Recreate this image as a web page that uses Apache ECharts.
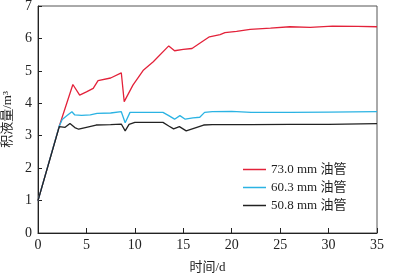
<!DOCTYPE html>
<html>
<head>
<meta charset="utf-8">
<script src="https://cdn.jsdelivr.net/npm/echarts@6/dist/echarts.min.js"></script>
<style>
  html, body { margin: 0; padding: 0; background: #fff; }
  #chart { width: 393px; height: 280px; }
</style>
</head>
<body>
<div id="chart"></div>
<script>
// 73.0 mm 油管
const redDays = [0, 2.2, 3.6, 4.3, 5.0, 5.7, 6.2, 7.5, 8.6, 8.9, 9.1, 9.8, 10.9, 11.9, 13.5, 14.1, 15.0, 15.9, 16.7, 17.7, 18.8, 19.3, 20.5, 21.9, 24, 26, 28.1, 30.4, 33, 35]
const redVals = [1.0, 3.3, 4.58, 4.25, 4.35, 4.46, 4.7, 4.78, 4.94, 4.05, 4.05, 4.56, 5.03, 5.28, 5.77, 5.62, 5.66, 5.69, 5.85, 6.05, 6.12, 6.18, 6.22, 6.28, 6.32, 6.36, 6.34, 6.38, 6.37, 6.36]
// 60.3 mm 油管
const blueDays = [0, 2.2, 2.5, 3.0, 3.5, 3.8, 4.5, 5.4, 6.1, 7.5, 8.6, 9.0, 9.1, 9.5, 10, 12.9, 13.5, 14.1, 14.65, 15.2, 16.0, 16.7, 17.2, 18, 20, 22, 26, 30, 35]
const blueVals = [1.0, 3.3, 3.5, 3.62, 3.74, 3.64, 3.63, 3.64, 3.69, 3.7, 3.74, 3.4, 3.38, 3.72, 3.72, 3.72, 3.62, 3.51, 3.62, 3.51, 3.55, 3.57, 3.72, 3.74, 3.75, 3.72, 3.72, 3.73, 3.74]
// 50.8 mm 油管
const blackDays = [0, 2.2, 2.8, 3.3, 3.8, 4.2, 5.0, 6.0, 7.5, 8.6, 9.0, 9.4, 10, 12.9, 13.5, 14.0, 14.6, 15.3, 16.4, 17.1, 18, 22, 26, 30, 35]
const blackVals = [1.0, 3.28, 3.26, 3.38, 3.25, 3.2, 3.26, 3.33, 3.34, 3.36, 3.15, 3.35, 3.41, 3.41, 3.3, 3.21, 3.28, 3.15, 3.26, 3.33, 3.34, 3.34, 3.35, 3.35, 3.37]

const names = ['73.0 mm 油管', '60.3 mm 油管', '50.8 mm 油管']
const colors = ['#e3223a', '#2bb3e3', '#222222']

const font = '"Liberation Serif", "Times New Roman", "Noto Sans CJK SC", serif'

function pairs(xs, ys) {
  return xs.map((x, i) => [x, ys[i]])
}

const chart = echarts.init(document.getElementById('chart'))
chart.setOption({
  animation: false,
  color: colors,
  textStyle: { fontFamily: font },
  grid: {
    left: 38,
    right: 16,
    top: 6,
    bottom: 47,
    outerBoundsMode: 'none',
    containLabel: false,
    show: true,
    borderColor: '#555',
    borderWidth: 1
  },
  legend: {
    orient: 'vertical',
    left: 238,
    top: 157,
    icon: 'rect',
    itemWidth: 23,
    itemHeight: 1.5,
    itemGap: 3,
    textStyle: { fontFamily: font, fontSize: 13, color: '#222', lineHeight: 15 },
    data: names
  },
  xAxis: {
    type: 'value',
    min: 0,
    max: 35,
    interval: 5,
    name: '时间/d',
    nameLocation: 'middle',
    nameGap: 28,
    nameTextStyle: { fontFamily: font, fontSize: 13, color: '#222' },
    axisLine: { lineStyle: { color: '#222' } },
    axisTick: { inside: true, length: 5, lineStyle: { color: '#222' } },
    axisLabel: { fontFamily: font, fontSize: 14, color: '#222', margin: 5 },
    splitLine: { show: false }
  },
  yAxis: {
    type: 'value',
    min: 0,
    max: 7,
    interval: 1,
    name: '积液量/m³',
    nameLocation: 'middle',
    nameGap: 22,
    nameTextStyle: { fontFamily: font, fontSize: 13, color: '#222' },
    axisLine: { show: true, lineStyle: { color: '#222' } },
    axisTick: { show: true, inside: true, length: 4, lineStyle: { color: '#222' } },
    axisLabel: { fontFamily: font, fontSize: 14, color: '#222', margin: 6 },
    splitLine: { show: false }
  },
  series: [
    { name: names[0], type: 'line', data: pairs(redDays, redVals), showSymbol: false, symbol: 'none', lineStyle: { width: 1.3 } },
    { name: names[1], type: 'line', data: pairs(blueDays, blueVals), showSymbol: false, symbol: 'none', lineStyle: { width: 1.3 } },
    { name: names[2], type: 'line', data: pairs(blackDays, blackVals), showSymbol: false, symbol: 'none', lineStyle: { width: 1.3 } }
  ]
})
</script>
</body>
</html>
